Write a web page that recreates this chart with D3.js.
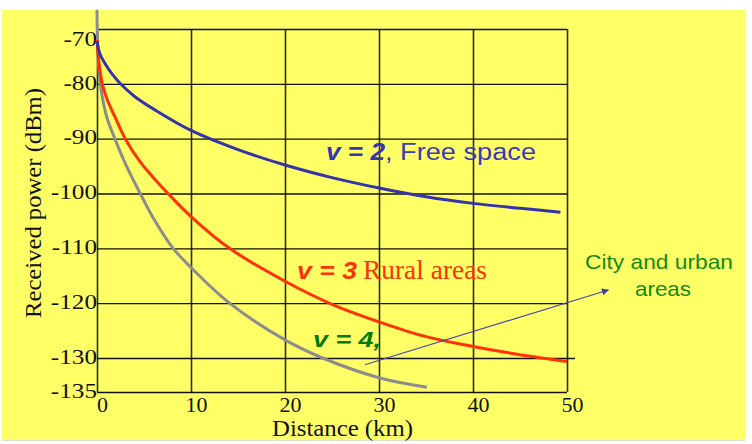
<!DOCTYPE html>
<html>
<head>
<meta charset="utf-8">
<script src="https://cdn.jsdelivr.net/npm/d3@7"></script>
<style>
  body { margin: 0; background: #fff; }
  svg { display: block; }
</style>
</head>
<body>
<div id="chart"></div>
<script>
// [distance km, received power dBm]
var freeSpace = [[0,-72.2],[0.3,-74.5],[0.85,-76.3],[1.6,-78.2],[2.45,-79.9],[4,-82.3],[6.2,-84.8],[10,-88.5],
  [15,-92],[20,-94.8],[25,-97.1],[30,-99],[35,-100.6],[40,-101.8],[45,-102.7],[49.3,-103.4]];
var rural = [[0,-72],[0.2,-76],[0.5,-79.5],[1,-82.5],[1.9,-86],[3,-90],[4.5,-94],[6.2,-97.5],[7.55,-100],
  [10,-104.2],[14.1,-110],[20,-116],[25,-120.2],[30,-123.4],[35,-126.1],[40,-127.9],[45,-129.4],[50,-130.5]];
var urban = [[0,-66.5],[0.03,-70],[0.14,-75.7],[0.43,-81],[1.03,-86],[1.9,-90],[3,-94.5],[4.6,-100],[6,-104.5],
  [8.1,-110],[10,-113.5],[14.1,-120],[20,-126.7],[24,-130],[30,-132.9],[35.1,-134.3]];
var xTicks = [0, 10, 20, 30, 40, 50];
var yTicks = [-70, -80, -90, -100, -110, -120, -130, -135];

var serif = "Liberation Serif, 'Times New Roman', serif";
var sans = "Liberation Sans, Arial, sans-serif";

var svg = d3.select("#chart").append("svg")
  .attr("width", 752)
  .attr("height", 444);

// yellow slide background
svg.append("rect")
  .attr("x", 2).attr("y", 10)
  .attr("width", 743).attr("height", 430)
  .attr("fill", "#ffff66");
svg.append("line")
  .attr("x1", 2).attr("x2", 745).attr("y1", 440.5).attr("y2", 440.5)
  .attr("stroke", "#deded0").attr("stroke-width", 1);

var x = d3.scaleLinear().domain([0, 50]).range([97, 567]);
// the bottom band (-130 to -135) is drawn taller than the rest
var y = d3.scaleLinear().domain([-70, -130, -135]).range([29, 358, 392]);
var w = x(50) - x(0);
var h = y(-135) - y(-70);

// x axis + vertical grid
var gx = svg.append("g")
  .attr("transform", `translate(0,${y(-135)})`)
  .call(d3.axisBottom(x).tickValues(xTicks).tickSize(-h).tickPadding(4.5).tickFormat(d => String(d)));
gx.select(".domain").remove();
gx.selectAll("line").attr("stroke", "#2a2a2a").attr("stroke-width", 1.6);
gx.selectAll("text")
  .attr("font-family", serif).attr("font-size", 22).attr("fill", "#111").attr("dx", 5);

// y axis + horizontal grid
var gy = svg.append("g")
  .attr("transform", `translate(${x(0)},0)`)
  .call(d3.axisLeft(y).tickValues(yTicks).tickSize(-w).tickPadding(0).tickFormat(d => String(d)));
gy.select(".domain").remove();
gy.selectAll("line").attr("stroke", "#111").attr("stroke-width", 1.3);
gy.selectAll(".tick").filter(d => d === -130).select("line").attr("x2", w + 8);
gy.selectAll("text")
  .attr("font-family", serif).attr("font-size", 21).attr("fill", "#111")
  .attr("transform", "scale(1.2,1)")
  .attr("dy", d => d === -70 ? "0.78em" : "0.25em");

// curves
var line = d3.line()
  .x(d => x(d[0]))
  .y(d => y(d[1]))
  .curve(d3.curveCatmullRom.alpha(0.5));

var series = [
  {data: urban, color: "#8c8c8c"},
  {data: rural, color: "#ff3300"},
  {data: freeSpace, color: "#3434a8"}
];
svg.append("g").selectAll("path")
  .data(series)
  .enter()
  .append("path")
    .attr("d", d => line(d.data))
    .attr("fill", "none")
    .attr("stroke", d => d.color)
    .attr("stroke-width", 3);

// axis titles
svg.append("text")
  .attr("x", 272).attr("y", 436)
  .attr("font-family", serif).attr("font-size", 24).attr("fill", "#111")
  .attr("textLength", 141).attr("lengthAdjust", "spacingAndGlyphs")
  .text("Distance (km)");
svg.append("text")
  .attr("transform", "translate(41,318) rotate(-90)")
  .attr("font-family", serif).attr("font-size", 24).attr("fill", "#111")
  .attr("textLength", 230).attr("lengthAdjust", "spacingAndGlyphs")
  .text("Received power (dBm)");

// curve labels
function label(txt, px, py, len, size, family, color, bold) {
  var t = svg.append("text")
    .attr("x", px).attr("y", py)
    .attr("font-family", family).attr("font-size", size).attr("fill", color)
    .attr("textLength", len).attr("lengthAdjust", "spacingAndGlyphs")
    .text(txt);
  if (bold) { t.attr("font-weight", "bold").attr("font-style", "italic"); }
  return t;
}
label("v = 2", 326, 160, 59, 23, sans, "#3535b0", true);
label(", Free space", 385, 160, 151, 23, sans, "#3c3cb4", false);
label("v = 3", 297, 279, 60, 23, sans, "#ff3300", true);
label("Rural areas", 363, 279, 124, 27, serif, "#ff3300", false);
label("v = 4,", 313, 347, 68, 22, sans, "#007a00", true);
label("City and urban", 585, 269, 148, 21, sans, "#128a12", false);
label("areas", 635, 296, 56, 21, sans, "#128a12", false);

// arrow pointing to the urban label
svg.append("defs").append("marker")
  .attr("id", "arrow")
  .attr("viewBox", "0 0 10 10")
  .attr("refX", 9).attr("refY", 5)
  .attr("markerUnits", "userSpaceOnUse")
  .attr("markerWidth", 9).attr("markerHeight", 7)
  .attr("orient", "auto")
  .append("path")
    .attr("d", "M0,0L10,5L0,10z")
    .attr("fill", "#4040b0");
svg.append("line")
  .attr("x1", x(28.5)).attr("y1", y(-131))
  .attr("x2", x(54.4)).attr("y2", y(-117.6))
  .attr("stroke", "#4848b0").attr("stroke-width", 1.2)
  .attr("marker-end", "url(#arrow)");
</script>
</body>
</html>
